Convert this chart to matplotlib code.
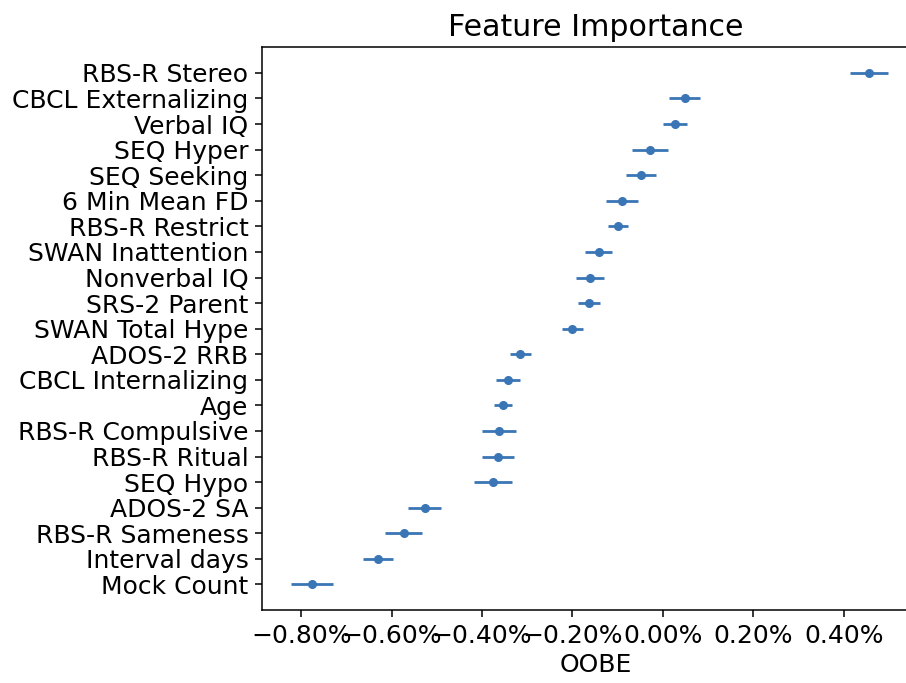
"""Feature importance plot (OOBE change per feature) with error bars."""

import matplotlib

matplotlib.use("Agg")
import numpy as np
from matplotlib import pyplot as plt
from matplotlib.ticker import PercentFormatter

# features, top to bottom
features = [
	"RBS-R Stereo",
	"CBCL Externalizing",
	"Verbal IQ",
	"SEQ Hyper",
	"SEQ Seeking",
	"6 Min Mean FD",
	"RBS-R Restrict",
	"SWAN Inattention",
	"Nonverbal IQ",
	"SRS-2 Parent",
	"SWAN Total Hype",
	"ADOS-2 RRB",
	"CBCL Internalizing",
	"Age",
	"RBS-R Compulsive",
	"RBS-R Ritual",
	"SEQ Hypo",
	"ADOS-2 SA",
	"RBS-R Sameness",
	"Interval days",
	"Mock Count",
]
# mean OOBE change (in %)
oobe_mean = [
	0.455, 0.048, 0.027, -0.029, -0.048, -0.091, -0.100,
	-0.142, -0.162, -0.163, -0.200, -0.315, -0.342, -0.354,
	-0.362, -0.364, -0.375, -0.527, -0.573, -0.630, -0.776,
]
# half width of the error bars (in %)
oobe_err = [
	0.042, 0.034, 0.026, 0.040, 0.033, 0.035, 0.022,
	0.030, 0.031, 0.025, 0.024, 0.024, 0.026, 0.020,
	0.038, 0.035, 0.042, 0.036, 0.041, 0.034, 0.046,
]
x_ticks = [-0.8, -0.6, -0.4, -0.2, 0.0, 0.2, 0.4]

color = "#3a75b6"
plt.rcParams["font.size"] = 18

fig = plt.figure(figsize=(9.06, 6.83), dpi=100)
# axes run past the right edge of the figure (cropped in the original)
ax = fig.add_axes([0.2895, 0.1069, 0.737, 0.8238])

# bottom feature at y=0, top feature at the top
y = np.arange(len(features))[::-1]
ax.errorbar(
	oobe_mean,
	y,
	xerr=oobe_err,
	fmt="o",
	color=color,
	ecolor=color,
	elinewidth=2.0,
	markersize=5.5,
	capsize=0,
)

ax.set_yticks(y)
ax.set_yticklabels(features)
ax.set_xticks(x_ticks)
ax.xaxis.set_major_formatter(PercentFormatter(xmax=100, decimals=2))
ax.set_xlim(-0.886, 0.591)

for spine in ax.spines.values():
	spine.set_linewidth(1.1)
# the right border is cut off in the original image
ax.spines["right"].set_visible(False)
ax.tick_params(width=1.1, length=5, pad=5)

ax.set_xlabel("OOBE")
ax.set_title("Feature Importance", fontsize=21.6, pad=8)

fig.savefig("out.png", dpi=100)
